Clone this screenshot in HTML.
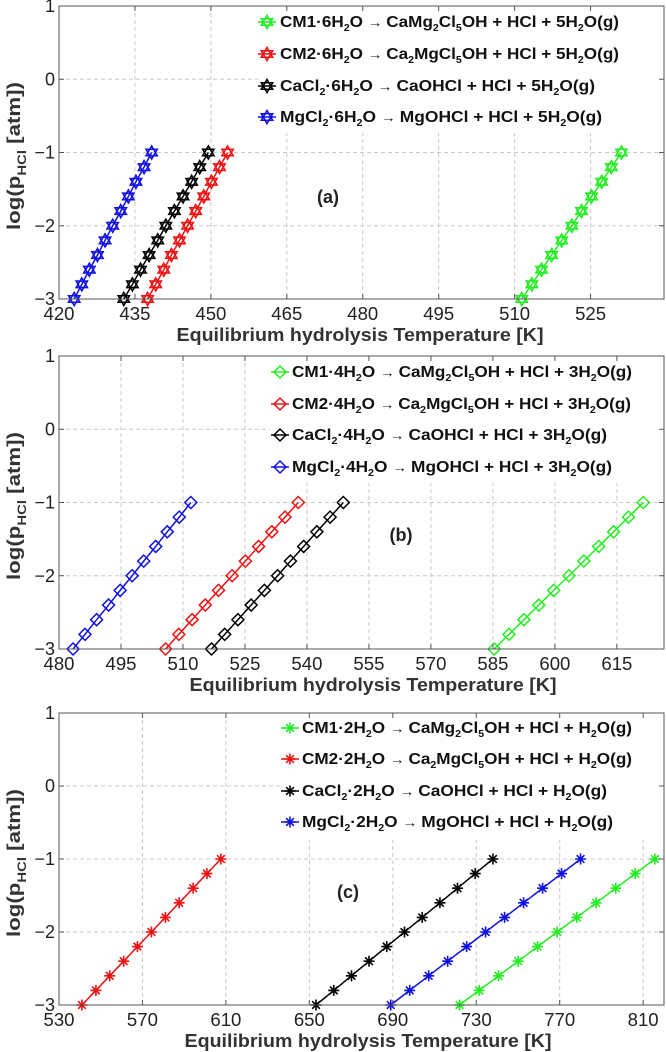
<!DOCTYPE html>
<html><head><meta charset="utf-8"><style>
html,body{margin:0;padding:0;background:#fff}
svg{display:block}
text{font-family:"Liberation Sans",Arial,sans-serif}
</style></head><body>
<svg id="fig" width="666" height="1052" viewBox="0 0 666 1052" xmlns="http://www.w3.org/2000/svg"></svg>
<script>
// ---------- data ----------
const yLevels = [-3,-2.8,-2.6,-2.4,-2.2,-2,-1.8,-1.6,-1.4,-1.2,-1];
// panel (a): hexahydrates
const aCM1 = [511.4,513.4,515.3,517.3,519.3,521.3,523.2,525.2,527.2,529.1,531.1];
const aCM2 = [437.5,439.1,440.7,442.2,443.8,445.4,447.0,448.6,450.1,451.7,453.3];
const aCa  = [432.8,434.5,436.1,437.8,439.5,441.1,442.8,444.5,446.2,447.8,449.5];
const aMg  = [423.0,424.5,426.0,427.6,429.1,430.6,432.2,433.7,435.2,436.8,438.3];
const aTicks = [420,435,450,465,480,495,510,525];
// panel (b): tetrahydrates
const bCM1 = [585.3,588.9,592.5,596.1,599.7,603.4,607.0,610.6,614.2,617.8,621.4];
const bCM2 = [505.8,509.0,512.2,515.4,518.6,521.9,525.1,528.3,531.5,534.7,537.9];
const bCa  = [516.9,520.1,523.3,526.5,529.7,532.9,536.0,539.2,542.4,545.6,548.8];
const bMg  = [483.4,486.3,489.1,492.0,494.8,497.7,500.5,503.4,506.2,509.1,511.9];
const bTicks = [480,495,510,525,540,555,570,585,600,615];
// panel (c): dihydrates
const cCM1 = [722.0,731.4,740.7,750.1,759.4,768.8,778.2,787.5,796.9,806.2,815.6];
const cCM2 = [541.0,547.7,554.3,561.0,567.6,574.3,581.0,587.6,594.3,600.9,607.6];
const cCa  = [653.2,661.7,670.2,678.6,687.1,695.6,704.1,712.6,721.0,729.5,738.0];
const cMg  = [689.0,698.1,707.2,716.3,725.4,734.5,743.6,752.7,761.8,770.9,780.0];
const cTicks = [530,570,610,650,690,730,770,810];
const yTicks = [1,0,-1,-2,-3];
const yTickLabels = ["1","0","\u22121","\u22122","\u22123"];

const aLabels = ["CM1·6H_2O \u2192 CaMg_2Cl_5OH + HCl + 5H_2O(g)","CM2·6H_2O \u2192 Ca_2MgCl_5OH + HCl + 5H_2O(g)","CaCl_2·6H_2O \u2192 CaOHCl + HCl + 5H_2O(g)","MgCl_2·6H_2O \u2192 MgOHCl + HCl + 5H_2O(g)"];
const bLabels = ["CM1·4H_2O \u2192 CaMg_2Cl_5OH + HCl + 3H_2O(g)","CM2·4H_2O \u2192 Ca_2MgCl_5OH + HCl + 3H_2O(g)","CaCl_2·4H_2O \u2192 CaOHCl + HCl + 3H_2O(g)","MgCl_2·4H_2O \u2192 MgOHCl + HCl + 3H_2O(g)"];
const cLabels = ["CM1·2H_2O \u2192 CaMg_2Cl_5OH + HCl + H_2O(g)","CM2·2H_2O \u2192 Ca_2MgCl_5OH + HCl + H_2O(g)","CaCl_2·2H_2O \u2192 CaOHCl + HCl + H_2O(g)","MgCl_2·2H_2O \u2192 MgOHCl + HCl + H_2O(g)"];

const colors = ["#22ee22","#ee1111","#000000","#1010e0"];
const NS = "http://www.w3.org/2000/svg";
const svg = document.getElementById('fig');
function mk(tag, attrs, parent){
  const e = document.createElementNS(NS, tag);
  for (const k in attrs) e.setAttribute(k, attrs[k]);
  (parent||svg).appendChild(e);
  return e;
}

const panels = [
  {id:'a', top:6, bottom:299, xmin:420, xmax:539.5, ticks:aTicks, series:[aCM1,aCM2,aCa,aMg], labels:aLabels, marker:'hex',
   legX:258, legW:405, legMx:267, legTx:280, legEnds:[619,619,595,602], legY:[27,59,91,122], tag:'(a)', tagX:328, tagY:203, xlabX:360, names:['cm1-6h2o','cm2-6h2o','cacl2-6h2o','mgcl2-6h2o']},
  {id:'b', top:356, bottom:649, xmin:480, xmax:626.4, ticks:bTicks, series:[bCM1,bCM2,bCa,bMg], labels:bLabels, marker:'dia',
   legX:270, legW:393, legMx:280, legTx:292, legEnds:[632,631,607,612], legY:[377,409,440,472], tag:'(b)', tagX:401, tagY:541, xlabX:373, names:['cm1-4h2o','cm2-4h2o','cacl2-4h2o','mgcl2-4h2o']},
  {id:'c', top:713, bottom:1005, xmin:530, xmax:820, ticks:cTicks, series:[cCM1,cCM2,cCa,cMg], labels:cLabels, marker:'ast',
   legX:280, legW:383, legMx:290, legTx:302, legEnds:[632,632,607,613], legY:[733,764,796,827], tag:'(c)', tagX:348, tagY:898, xlabX:368, names:['cm1-2h2o','cm2-2h2o','cacl2-2h2o','mgcl2-2h2o']}
];
const L = 59, R = 664;

function marker(g, type, x, y, col){
  let m;
  if (type==='hex'){
    const r=6.5, p1=[], p2=[];
    for(let i=0;i<3;i++){const a=-Math.PI/2+i*2*Math.PI/3; p1.push((x+r*Math.cos(a)).toFixed(2)+','+(y+r*Math.sin(a)).toFixed(2));}
    for(let i=0;i<3;i++){const a=Math.PI/2+i*2*Math.PI/3; p2.push((x+r*Math.cos(a)).toFixed(2)+','+(y+r*Math.sin(a)).toFixed(2));}
    m = mk('g',{},g);
    mk('polygon',{points:p1.join(' '),fill:'none',stroke:col,'stroke-width':1.6},m);
    mk('polygon',{points:p2.join(' '),fill:'none',stroke:col,'stroke-width':1.6},m);
  } else if (type==='dia'){
    const r=6;
    m = mk('polygon',{points:`${x},${y-r} ${x+r},${y} ${x},${y+r} ${x-r},${y}`,fill:'none',stroke:col,'stroke-width':1.5},g);
  } else {
    const r=5.5, d=r*0.7;
    m = mk('path',{d:`M${x-r},${y}H${x+r}M${x},${y-r}V${y+r}M${x-d},${y-d}L${x+d},${y+d}M${x-d},${y+d}L${x+d},${y-d}`,stroke:col,'stroke-width':1.6,fill:'none'},g);
  }
  
  
}

function richText(parent, str, x, y, size, len, name){
  const t = mk('text',{x:x, y:y, 'font-size':size, 'font-weight':'bold', fill:'#111', textLength:len, lengthAdjust:'spacingAndGlyphs'}, parent);
  
  
  let i=0, buf='', pend=0;
  const add=(txt,attrs)=>{ const a=Object.assign({},attrs||{}); if(pend){a.dy=pend; pend=0;} const s=mk('tspan',a,t); s.textContent=txt; };
  const flush=()=>{ if(buf){ add(buf); buf=''; } };
  while(i<str.length){
    const ch=str[i];
    if(ch==='_'){ flush(); add(str[i+1],{dy:4,'font-size':size*0.62}); pend=-4; i+=2; continue; }
    if(ch==='\u2192'){ flush(); add(' \u2192 ',{'font-weight':'normal','font-size':size*0.85}); i++; continue; }
    buf+=ch; i++;
  }
  flush();
}

panels.forEach(P=>{
  const g = mk('g',{});
  
  
  const sx = v => L + (v-P.xmin)/(P.xmax-P.xmin)*(R-L);
  const sy = v => P.bottom + (v+3)/4*(P.top-P.bottom);
  const grid = mk('g',{stroke:'#c8c8c8','stroke-width':1,'stroke-dasharray':'4,3'},g);
   
  P.ticks.forEach(t=>{ const x=sx(t); if(x>L+1) mk('line',{x1:x,x2:x,y1:P.top,y2:P.bottom},grid); });
  yTicks.forEach(t=>{ const y=sy(t); if(y>P.top+1 && y<P.bottom-1) mk('line',{x1:L,x2:R,y1:y,y2:y},grid); });
  P.series.forEach((arr,si)=>{
    const sg = mk('g',{},g);
    
    
    const pts = arr.map((v,i)=>sx(v).toFixed(2)+','+sy(yLevels[i]).toFixed(2)).join(' ');
    mk('polyline',{points:pts,fill:'none',stroke:colors[si],'stroke-width':1.5},sg);
    arr.forEach((v,i)=>marker(sg,P.marker,sx(v),sy(yLevels[i]),colors[si]));
  });
  const lg = mk('g',{},g);
   
  mk('rect',{x:P.legX,y:P.top+1,width:P.legW,height:126,fill:'#fff'},lg);
  P.labels.forEach((lab,i)=>{
    const y=P.legY[i]-5;
    const eg = mk('g',{},lg);
     
    mk('line',{x1:P.legMx-9,x2:P.legMx+9,y1:y,y2:y,stroke:colors[i],'stroke-width':1.5},eg);
    marker(eg,P.marker,P.legMx,y,colors[i]);
    richText(eg, lab, P.legTx, P.legY[i], 16, P.legEnds[i]-P.legTx, 'legend-label');
  });
  const box = mk('rect',{x:L,y:P.top,width:R-L,height:P.bottom-P.top,fill:'none',stroke:'#555','stroke-width':1},g);
   
  const xt = mk('g',{'font-size':18,fill:'#222','text-anchor':'middle'},g);
   
  P.ticks.forEach(t=>{ const x=sx(t);
    mk('line',{x1:x,x2:x,y1:P.bottom,y2:P.bottom-5,stroke:'#555'},xt);
    mk('line',{x1:x,x2:x,y1:P.top,y2:P.top+5,stroke:'#555'},xt);
    const tx=mk('text',{x:x,y:P.bottom+21,textLength:31,lengthAdjust:'spacingAndGlyphs'},xt); tx.textContent=String(t);
  });
  const yt = mk('g',{'font-size':18,fill:'#222','text-anchor':'end'},g);
   
  yTicks.forEach((t,i)=>{ const y=sy(t);
    mk('line',{x1:L,x2:L+5,y1:y,y2:y,stroke:'#555'},yt);
    mk('line',{x1:R,x2:R-5,y1:y,y2:y,stroke:'#555'},yt);
    const tx=mk('text',{x:L-4,y:y+6},yt); tx.textContent=yTickLabels[i];
  });
  const xl = mk('text',{x:P.xlabX,y:P.bottom+42,'font-size':18,'font-weight':'bold',fill:'#333','text-anchor':'middle',textLength:367,lengthAdjust:'spacingAndGlyphs'},g);
   
  xl.textContent='Equilibrium hydrolysis Temperature [K]';
  const cy = P.top+150;
  const yl = mk('text',{x:0,y:0,'font-size':18,'font-weight':'bold',fill:'#333','text-anchor':'middle',transform:`translate(20,${cy}) rotate(-90)`,textLength:148,lengthAdjust:'spacingAndGlyphs'},g);
   
  const s1=mk('tspan',{},yl); s1.textContent='log(p';
  const s2=mk('tspan',{dy:6,'font-size':12},yl); s2.textContent='HCl';
  const s3=mk('tspan',{dy:-6},yl); s3.textContent=' [atm])';
  const tg = mk('text',{x:P.tagX,y:P.tagY,'font-size':18,'font-weight':'bold',fill:'#222','text-anchor':'middle'},g);
   
  tg.textContent=P.tag;
});
</script>
</body></html>
